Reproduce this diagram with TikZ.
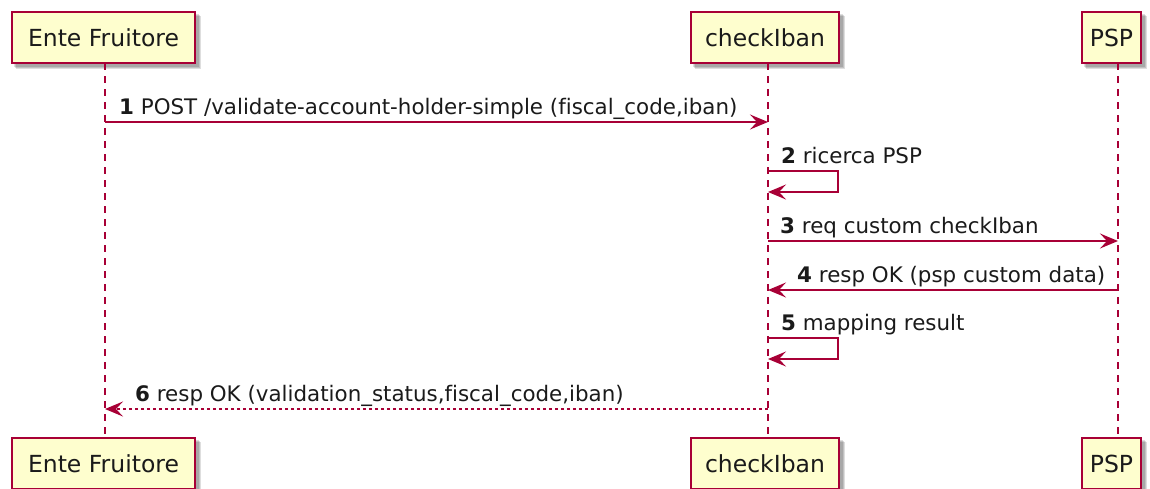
\documentclass[tikz,border=0pt]{standalone}
\usepackage{fontspec}
\setmainfont{DejaVu Sans}[Ligatures={NoCommon}]
\usetikzlibrary{arrows.meta}
\definecolor{pumlred}{HTML}{A80036}
\definecolor{pumlfill}{HTML}{FEFECE}
\definecolor{txt}{HTML}{1A1A1A}
\begin{document}
\begin{tikzpicture}[x=1pt,y=-1pt,
  part/.style={draw=pumlred, line width=2pt, fill=pumlfill, text=txt,
    font=\fontsize{23.5}{27}\selectfont, inner sep=0pt, anchor=north west, minimum height=51pt},
  lifeline/.style={draw=pumlred, line width=1.3pt, dash pattern=on 7pt off 6pt},
  msg/.style={draw=pumlred, line width=1.6pt, -{Stealth[length=18pt,width=15pt,inset=7pt]}},
  reply/.style={msg, dash pattern=on 3pt off 3pt},
  lbl/.style={font=\fontsize{21.4}{25}\selectfont, inner sep=0pt, anchor=base west, text=txt},
  shadowa/.style={fill=black, opacity=0.13},
]
\useasboundingbox (0,0) rectangle (1150,488);

% shadows
\foreach \x/\w/\y in {11/183/11, 690/148/11, 1081/59/11, 11/183/437, 690/148/437, 1081/59/437}{
  \fill[shadowa] (\x+3,\y+3) rectangle (\x+\w+5,\y+51+5);
  \fill[shadowa] (\x+4,\y+4) rectangle (\x+\w+6,\y+51+6);
  \fill[shadowa] (\x+5,\y+5) rectangle (\x+\w+7,\y+51+7);
}

% participants top
\node[part, minimum width=183pt] (ef1) at (11,11) {Ente Fruitore};
\node[part, minimum width=148pt] (ci1) at (690,11) {checkIban};
\node[part, minimum width=59pt] (psp1) at (1081,11) {PSP};
% participants bottom
\node[part, minimum width=183pt] (ef2) at (11,437) {Ente Fruitore};
\node[part, minimum width=148pt] (ci2) at (690,437) {checkIban};
\node[part, minimum width=59pt] (psp2) at (1081,437) {PSP};

% lifelines
\coordinate (efT) at (105,63);  \coordinate (efB) at (105,436);
\coordinate (ciT) at (768,63);    \coordinate (ciB) at (768,436);
\coordinate (pspT) at (1118,63);  \coordinate (pspB) at (1118,436);
\draw[lifeline] (efT) -- (efB);
\draw[lifeline] (ciT) -- (ciB);
\draw[lifeline] (pspT) -- (pspB);

% message 1
\coordinate (m1s) at (105,122); \coordinate (m1e) at (768,122);
\draw[msg] (m1s) -- (m1e);
\node[lbl] (l1) at (119,114) {\textbf{1} POST /validate-account-holder-simple (fiscal\_code,iban)};

% message 2 (self)
\coordinate (m2s) at (768,171); \coordinate (m2c) at (838,171); \coordinate (m2e) at (768,192);
\draw[msg] (m2s) -- (m2c) |- (m2e);
\node[lbl] (l2) at (781,163) {\textbf{2} ricerca PSP};

% message 3
\coordinate (m3s) at (768,241); \coordinate (m3e) at (1118,241);
\draw[msg] (m3s) -- (m3e);
\node[lbl] (l3) at (780,233) {\textbf{3} req custom checkIban};

% message 4
\coordinate (m4s) at (1118,290); \coordinate (m4e) at (768,290);
\draw[msg] (m4s) -- (m4e);
\node[lbl] (l4) at (797,282) {\textbf{4} resp OK (psp custom data)};

% message 5 (self)
\coordinate (m5s) at (768,338); \coordinate (m5c) at (838,338); \coordinate (m5e) at (768,359);
\draw[msg] (m5s) -- (m5c) |- (m5e);
\node[lbl] (l5) at (781,330) {\textbf{5} mapping result};

% message 6 (reply)
\coordinate (m6s) at (768,409); \coordinate (m6e) at (105,409);
\draw[reply] (m6s) -- (m6e);
\node[lbl] (l6) at (135,401) {\textbf{6} resp OK (validation\_status,fiscal\_code,iban)};
\end{tikzpicture}
\end{document}
